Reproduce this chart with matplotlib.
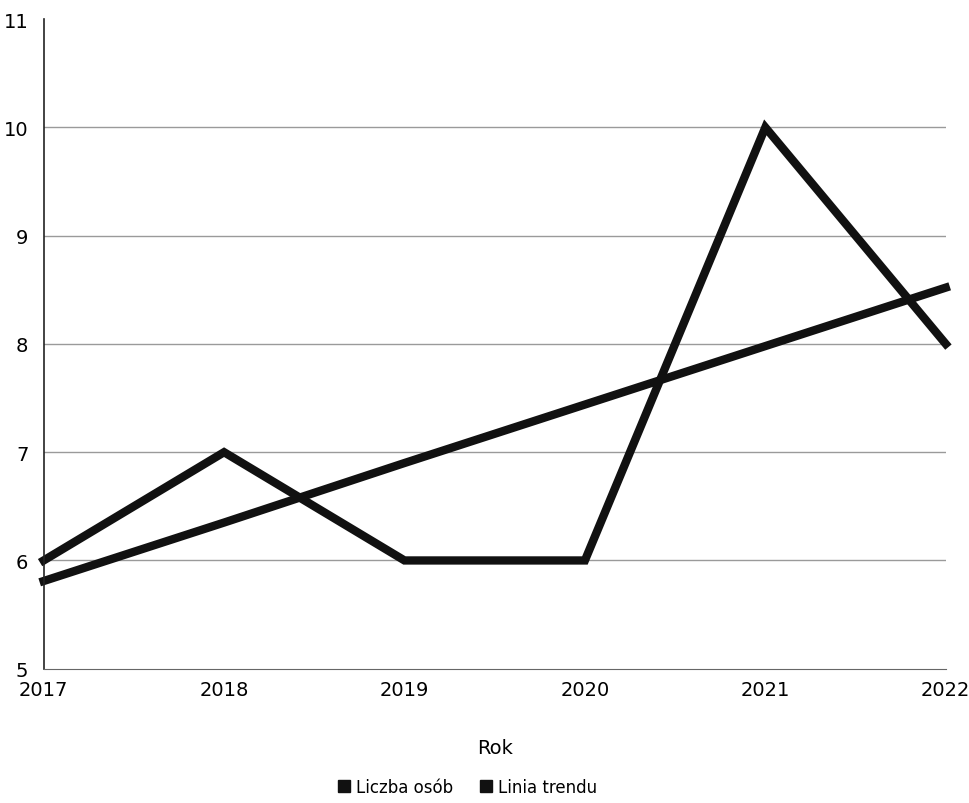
"""Liczba osób w latach 2017-2022 z linią trendu"""
import matplotlib.pyplot as plt
from matplotlib.lines import Line2D

years = [2017, 2018, 2019, 2020, 2021, 2022]
people = [6, 7, 6, 6, 10, 8]
trend = [5.81, 6.35, 6.90, 7.44, 7.98, 8.52]
y_ticks = [5, 6, 7, 8, 9, 10, 11]
grid_levels = [6, 7, 8, 9, 10]
labels = ["Liczba osób", "Linia trendu"]

fig = plt.figure(figsize=(9.7, 8.04), dpi=100)
ax = fig.add_axes([0.045, 0.167, 0.93, 0.808])

for lvl in grid_levels:
    ax.axhline(lvl, color="#9a9a9a", linewidth=1, zorder=0)

ax.plot(years, people, color="#111111", linewidth=6, solid_joinstyle="miter", clip_on=False)
ax.plot(years, trend, color="#111111", linewidth=6, clip_on=False)

ax.set_xlim(2017, 2022)
ax.set_ylim(5, 11)
ax.set_xticks(years)
ax.set_yticks(y_ticks)
ax.tick_params(axis="both", length=0, labelsize=14, pad=8)
ax.tick_params(axis="y", pad=11)
for side in ["top", "right"]:
    ax.spines[side].set_visible(False)
ax.spines["left"].set_color("#222222")
ax.spines["bottom"].set_color("#666666")
ax.spines["left"].set_linewidth(1.2)
ax.set_xlabel("Rok", fontsize=14, labelpad=28)

handles = [Line2D([], [], linestyle="none", marker="s", markersize=9, color="#111111") for _ in labels]
ax.legend(handles, labels, loc="upper center", bbox_to_anchor=(0.47, -0.145), ncol=2, frameon=False,
          fontsize=12, handlelength=0.7, handletextpad=0.4, columnspacing=1.6)

fig.savefig("out.png", dpi=100)
plt.close(fig)
